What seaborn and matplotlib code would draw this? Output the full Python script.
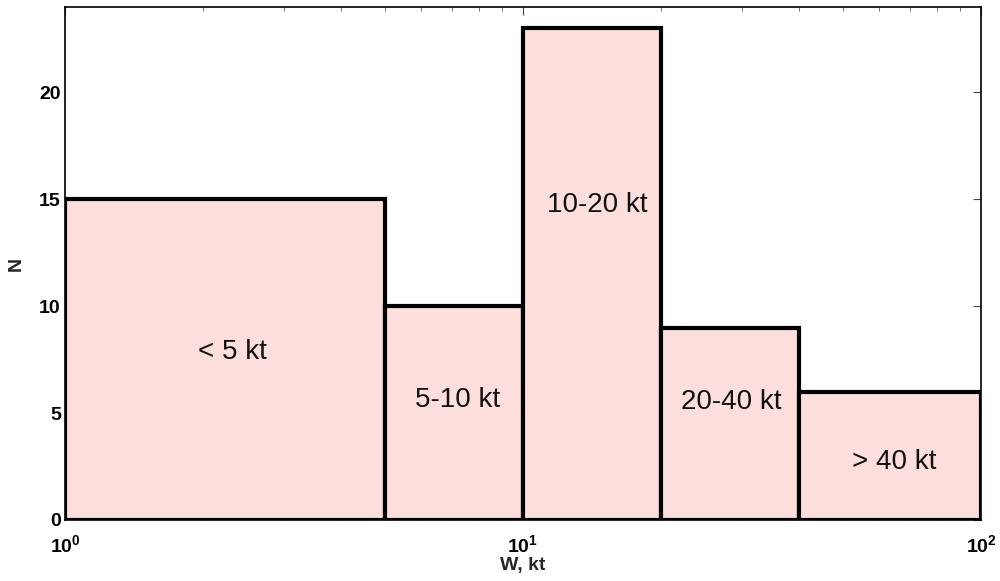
import numpy as np
import pandas as pd
import seaborn as sns
import matplotlib
matplotlib.use("Agg")
import matplotlib.pyplot as plt
from matplotlib.ticker import LogLocator, NullFormatter, FixedLocator

# Data
bin_edges = [1, 5, 10, 20, 40, 100]
bin_mids = [3, 7, 15, 30, 70]
counts = [15, 10, 23, 9, 6]
labels = ["< 5 kt", "5-10 kt", "10-20 kt", "20-40 kt", "> 40 kt"]
label_x = [2.32, 7.18, 14.5, 28.5, 64.6]
label_y = [7.87, 5.62, 14.75, 5.53, 2.72]
y_ticks = [0, 5, 10, 15, 20]

sns.set_theme(style="white")
plt.rcParams['font.family'] = ['Liberation Sans', 'DejaVu Sans']
plt.rcParams['mathtext.fontset'] = 'custom'
plt.rcParams['mathtext.rm'] = 'Liberation Sans:bold'
plt.rcParams['mathtext.it'] = 'Liberation Sans:bold'
plt.rcParams['mathtext.bf'] = 'Liberation Sans:bold'

df = pd.DataFrame({"W": bin_mids, "N": counts})

fig = plt.figure(figsize=(10, 5.81), dpi=100)
ax = fig.add_axes([0.065, 0.105, 0.916, 0.883])

sns.histplot(data=df, x="W", weights="N", bins=bin_edges, ax=ax,
             color="#FCDFDC", alpha=1.0, edgecolor="black", linewidth=3)
ax.set_xscale("log")
ax.set_xlim(1, 100)
ax.set_ylim(0, 24)

for t, x, y in zip(labels, label_x, label_y):
    ax.text(x, y, t, ha="center", va="center", fontsize=20, color="#111111")

ax.yaxis.set_major_locator(FixedLocator(y_ticks))
ax.set_yticklabels([str(v) for v in y_ticks])
ax.xaxis.set_major_locator(LogLocator(base=10, numticks=10))
ax.xaxis.set_minor_locator(LogLocator(base=10, subs=np.arange(2, 10), numticks=10))
ax.xaxis.set_minor_formatter(NullFormatter())

ax.tick_params(axis="both", which="major", direction="in", length=6, width=0.8,
               top=True, right=True, labelsize=14, colors="#444444", labelcolor="black")
ax.tick_params(axis="y", which="major", pad=3)
ax.tick_params(axis="x", which="major", pad=10)
ax.tick_params(axis="x", which="minor", direction="in", length=3, width=0.6,
               top=True, bottom=True, colors="#555555")
for lab in ax.get_yticklabels() + ax.get_xticklabels():
    lab.set_fontweight("bold")

for s in ax.spines.values():
    s.set_visible(True)
    s.set_color("black")
    s.set_linewidth(1.2)

ax.set_xlabel("W, kt", fontsize=14, fontweight="bold", labelpad=1)
ax.set_ylabel("N", fontsize=14, fontweight="bold", labelpad=10)

fig.savefig("out.png", dpi=100)
